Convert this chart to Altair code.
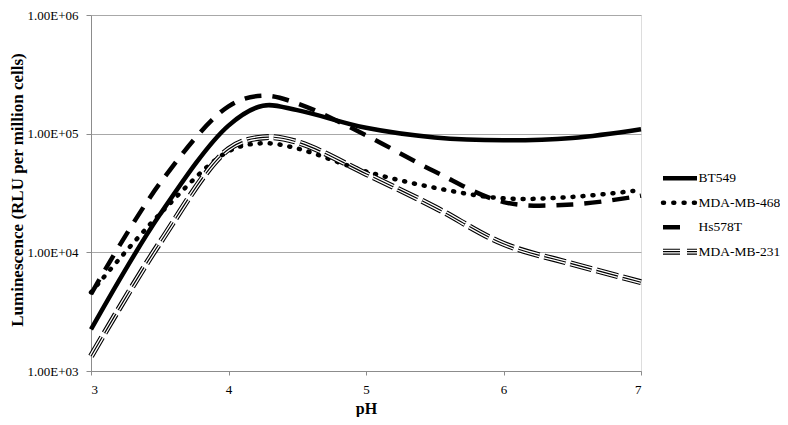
import altair as alt
import pandas as pd

PH = [3, 3.5, 4, 4.25, 4.5, 5, 5.5, 6, 6.5, 7]
BT549 = [2240, 20700, 117000, 172000, 158000, 112000, 93000, 88000, 92000, 109000]
MDA468 = [4600, 21000, 71000, 83000, 75000, 48000, 35000, 28500, 29300, 33500]
HS578T = [4450, 38000, 170000, 209000, 180000, 97000, 48000, 26500, 25300, 30000]
MDA231 = [1330, 12000, 74000, 93000, 85000, 46000, 24000, 11800, 8000, 5600]

SERIES = ["BT549", "MDA-MB-468", "Hs578T", "MDA-MB-231"]
X_TICKS = [3, 4, 5, 6, 7]
Y_TICKS = [1000, 10000, 100000, 1000000]
Y_LABELS = ["1.00E+03", "1.00E+04", "1.00E+05", "1.00E+06"]

rows = []
for name, vals in zip(SERIES, [BT549, MDA468, HS578T, MDA231]):
    for p, v in zip(PH, vals):
        rows.append({"pH": p, "value": v, "series": name})
df = pd.DataFrame(rows)
leg = pd.DataFrame({"series": SERIES})

FONT = "Liberation Serif"
GREY = "#8c8c8c"
TOP = 7
H = 363 - TOP

label_expr = " : ".join(
    f"datum.value < {t * 3} ? '{l}'" for t, l in zip(Y_TICKS, Y_LABELS)
) + " : ''"

x_enc = alt.X(
    "pH:Q",
    scale=alt.Scale(domain=[3, 7], nice=False, zero=False),
    axis=alt.Axis(values=X_TICKS, grid=False, title="pH", tickSize=4,
                  labelPadding=8, domainColor=GREY, tickColor=GREY,
                  labelFont=FONT, labelFontSize=13, labelColor="black",
                  titleFont=FONT, titleFontSize=16, titleFontWeight="bold",
                  titleColor="black", titleY=37, titleBaseline="middle"),
)

def y_enc(show_axis):
    scale = alt.Scale(type="log", domain=[1000, 1000000], nice=False)
    if show_axis:
        ax = alt.Axis(values=Y_TICKS, labelExpr=label_expr, grid=True,
                      gridColor="#a8a8a8", tickSize=5, labelPadding=8,
                      domainColor=GREY, tickColor=GREY, labelFont=FONT,
                      labelFontSize=13, labelColor="black",
                      title="Luminescence (RLU per million cells)",
                      titleFont=FONT, titleFontSize=17, titleFontWeight="bold",
                      titleColor="black", titleX=-74, titleY=189.5 - 8 - TOP,
                      titleBaseline="middle", titleAngle=270, titleAlign="center")
        return alt.Y("value:Q", scale=scale, axis=ax)
    return alt.Y("value:Q", scale=scale, axis=None)

base = alt.Chart(df)

def line_layer(name, show_axis=False, **mk):
    return base.transform_filter(alt.datum.series == name).mark_line(
        interpolate="catmull-rom", **mk
    ).encode(x=x_enc, y=y_enc(show_axis))

layers = [
    line_layer("BT549", True, color="black", strokeWidth=4.5),
    line_layer("MDA-MB-468", color="black", strokeWidth=4.5, strokeDash=[1, 9], strokeCap="round"),
    line_layer("Hs578T", color="black", strokeWidth=4.5, strokeDash=[17, 11]),
    line_layer("MDA-MB-231", color="black", strokeWidth=6, strokeDash=[22, 5]),
    line_layer("MDA-MB-231", color="white", strokeWidth=3.8, strokeDash=[22, 5]),
    line_layer("MDA-MB-231", color="black", strokeWidth=1.2, strokeDash=[22, 5]),
]

R0 = 178.3 - 8 - TOP
leg_y = alt.Y("series:N", scale=alt.Scale(type="point", domain=SERIES, range=[R0, R0 + 73.4], padding=0), axis=None)
lbase = alt.Chart(leg)

def leg_rule(name, x2, **mk):
    return lbase.transform_filter(alt.datum.series == name).mark_rule(**mk).encode(
        y=leg_y, x=alt.value(572), x2=alt.value(x2))

layers += [
    leg_rule("BT549", 606, color="black", strokeWidth=4.5),
    leg_rule("MDA-MB-468", 606, color="black", strokeWidth=4.5, strokeDash=[1, 9.3], strokeCap="round"),
    leg_rule("Hs578T", 589, color="black", strokeWidth=4.5),
    leg_rule("MDA-MB-231", 606, color="black", strokeWidth=6, strokeDash=[17, 7]),
    leg_rule("MDA-MB-231", 606, color="white", strokeWidth=3.8, strokeDash=[17, 7]),
    leg_rule("MDA-MB-231", 606, color="black", strokeWidth=1.2, strokeDash=[17, 7]),
    lbase.mark_text(align="left", baseline="middle", font=FONT, fontSize=13.5, color="black").encode(
        y=leg_y, x=alt.value(607.5), text="series:N"),
]

chart = alt.layer(*layers).resolve_scale(y="independent").properties(
    width=550, height=H,
    autosize=alt.AutoSizeParams(type="none"),
    padding={"left": 83, "top": TOP, "right": 139, "bottom": 46},
).configure_view(stroke=None).configure(background="white")

chart.save("out.html", embed_options={"renderer": "svg", "actions": False})
